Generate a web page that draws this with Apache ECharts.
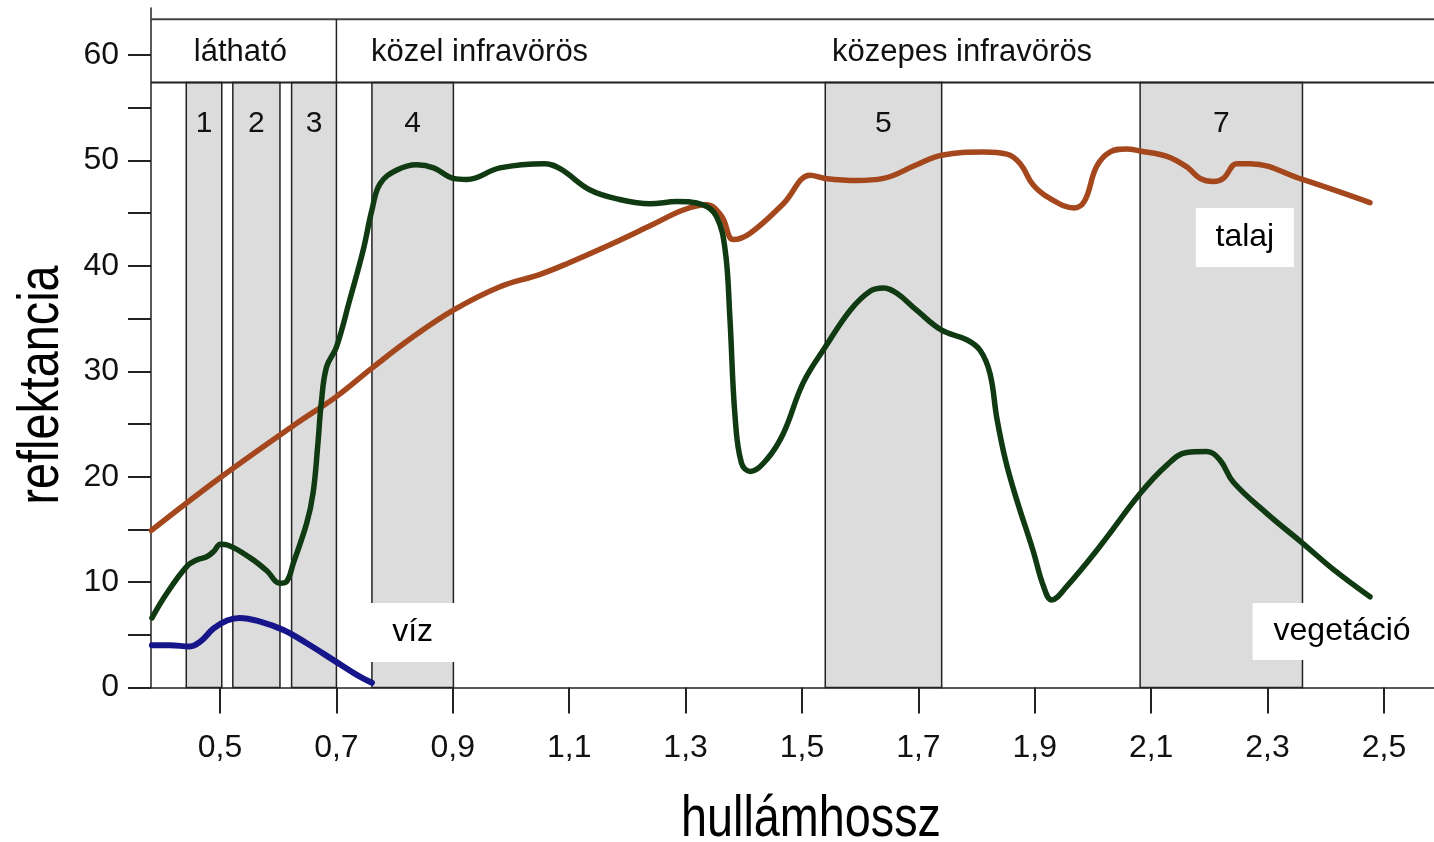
<!DOCTYPE html>
<html><head><meta charset="utf-8">
<script src="https://cdn.jsdelivr.net/npm/echarts@6/dist/echarts.min.js"></script>
<style>html,body{margin:0;padding:0;background:#fff}#c{width:1434px;height:842px}</style>
</head><body><div id="c"></div>
<script>
// ---- data ----
const soilWave = [0.382,0.50,0.63,0.70,0.761,0.83,0.901,0.98,1.05,1.10,1.17,1.239,1.296,1.336,1.362,1.382,1.411,1.468,1.514,1.540,1.594,1.640,1.697,1.740,1.812,1.852,1.875,1.897,1.926,1.968,1.986,2.006,2.029,2.058,2.081,2.127,2.161,2.184,2.207,2.224,2.247,2.270,2.360,2.476];
const soilRefl = [14.9,19.9,25.0,27.6,30.3,33.2,35.8,38.0,39.2,40.3,42.0,43.8,45.3,45.8,44.7,42.5,43.1,45.9,48.6,48.3,48.1,48.3,49.6,50.5,50.8,50.6,49.7,47.7,46.4,45.5,46.2,49.4,50.8,51.1,50.9,50.4,49.4,48.3,48.0,48.3,49.7,49.7,48.2,46.0];

const vegWave = [0.383,0.408,0.443,0.46,0.477,0.489,0.501,0.514,0.552,0.580,0.603,0.615,0.626,0.649,0.660,0.668,0.674,0.683,0.70,0.723,0.746,0.761,0.775,0.804,0.838,0.867,0.901,0.924,0.981,1.058,1.085,1.136,1.187,1.239,1.285,1.330,1.353,1.368,1.376,1.385,1.396,1.411,1.439,1.468,1.502,1.540,1.583,1.617,1.640,1.663,1.697,1.740,1.783,1.806,1.823,1.835,1.850,1.869,1.897,1.915,1.929,1.955,2.012,2.081,2.127,2.161,2.195,2.218,2.241,2.299,2.360,2.413,2.476];
const vegRefl = [6.6,8.9,11.5,12.1,12.4,12.9,13.6,13.5,12.3,11.1,9.9,10.1,11.8,15.6,18.5,23.0,27.0,30.4,32.3,36.8,41.5,45.3,47.8,49.1,49.6,49.3,48.3,48.2,49.3,49.7,49.2,47.2,46.3,45.9,46.1,45.8,44.7,41.5,35.2,25.7,21.3,20.5,21.6,24.1,28.9,32.3,35.8,37.6,37.9,37.4,35.8,33.9,33.0,32.0,29.8,25.5,21.5,17.8,13.0,9.6,8.3,9.6,13.4,18.4,21.1,22.3,22.4,21.6,19.5,16.5,13.7,11.2,8.6];

const waterWave = [0.383,0.414,0.448,0.466,0.489,0.512,0.534,0.569,0.609,0.649,0.695,0.735,0.761];
const waterRefl = [4.0,4.0,3.9,4.35,5.6,6.35,6.6,6.25,5.45,4.2,2.6,1.2,0.45];

const xTickValues = [0.5,0.7,0.9,1.1,1.3,1.5,1.7,1.9,2.1,2.3,2.5];
const yLabelValues = [0,10,20,30,40,50,60];
const yTickValues = [0,5,10,15,20,25,30,35,40,45,50,55,60];

const bandNames = ['1','2','3','4','5','7'];
const bandStart = [0.442,0.522,0.623,0.761,1.540,2.081];
const bandEnd   = [0.503,0.603,0.700,0.901,1.740,2.360];

const regionNames  = ['látható','közel infravörös','közepes infravörös'];
const regionCenter = [0.535,0.946,1.775];
const regionDividers = [0.7];

const curveNames = ['talaj','vegetáció','víz'];
const curveLabelX = [2.261,2.428,0.831];
const curveLabelY = [42.69,5.31,5.22];

const xAxisTitle = 'hullámhossz';
const yAxisTitle = 'reflektancia';

// ---- layout / style constants ----
const X_MIN = 0.3814, X_MAX = 2.586, Y_MIN = 0, Y_MAX = 64.47;
const HEADER_TOP = 63.4, HEADER_BOTTOM = 57.4, HEADER_TEXT_Y = 60.27, BAND_LABEL_Y = 53.5;
const FONT = '"Liberation Sans", Arial, Helvetica, sans-serif';
const BOX_SIZE = [[98,59],[179,57],[99,59]];
const zip = (a,b) => a.map((v,i)=>[v,b[i]]);

const chart = echarts.init(document.getElementById('c'), null, {renderer:'canvas'});
chart.setOption({
  animation:false,
  backgroundColor:'#ffffff',
  grid:{left:151,right:0,top:8,bottom:154.5,containLabel:false,outerBoundsMode:'none'},
  xAxis:{
    type:'value',min:X_MIN,max:X_MAX,
    axisLine:{show:true,onZero:false,lineStyle:{color:'#222',width:1.5}},
    axisTick:{show:true,customValues:xTickValues,length:26,lineStyle:{color:'#222',width:2}},
    axisLabel:{customValues:xTickValues,formatter:v=>v.toFixed(1).replace('.',','),fontSize:32,fontFamily:FONT,color:'#111',margin:45},
    splitLine:{show:false}
  },
  yAxis:{
    type:'value',min:Y_MIN,max:Y_MAX,
    axisLine:{show:true,lineStyle:{color:'#222',width:1.5}},
    axisTick:{show:true,customValues:yTickValues,length:23,lineStyle:{color:'#222',width:2}},
    axisLabel:{customValues:yLabelValues,fontSize:32,fontFamily:FONT,color:'#111',margin:32},
    splitLine:{show:false}
  },
  graphic:[
    {type:'text',x:811,y:820,scaleX:0.82,style:{text:xAxisTitle,font:'57px '+FONT,fill:'#000',align:'center',verticalAlign:'middle'}},
    {type:'text',x:42,y:385,rotation:Math.PI/2,scaleX:0.82,style:{text:yAxisTitle,font:'57px '+FONT,fill:'#000',align:'center',verticalAlign:'middle'}}
  ],
  series:[
    {
      type:'custom',name:'bands',z:1,
      data:bandNames.map((n,i)=>[bandStart[i],bandEnd[i]]),
      renderItem:(params,api)=>{
        const i = params.dataIndex;
        const p0 = api.coord([bandStart[i],0]);
        const p1 = api.coord([bandEnd[i],HEADER_BOTTOM]);
        const m = api.coord([(bandStart[i]+bandEnd[i])/2,BAND_LABEL_Y]);
        return {type:'group',children:[
          {type:'rect',shape:{x:p0[0],y:p1[1],width:p1[0]-p0[0],height:p0[1]-p1[1]},style:{fill:'#dcdcdc',stroke:'#222',lineWidth:1.5}},
          {type:'text',x:m[0],y:m[1],style:{text:bandNames[i],font:'30px '+FONT,fill:'#111',align:'center',verticalAlign:'middle'}}
        ]};
      }
    },
    {
      type:'custom',name:'header',z:1,
      data:[[X_MIN,HEADER_TOP]],
      renderItem:(params,api)=>{
        const tl = api.coord([X_MIN,HEADER_TOP]), tr = api.coord([X_MAX,HEADER_TOP]);
        const bl = api.coord([X_MIN,HEADER_BOTTOM]), br = api.coord([X_MAX,HEADER_BOTTOM]);
        const ch = [
          {type:'line',shape:{x1:tl[0],y1:tl[1],x2:tr[0]+2,y2:tr[1]},style:{stroke:'#444',lineWidth:2}},
          {type:'line',shape:{x1:bl[0],y1:bl[1],x2:br[0]+2,y2:br[1]},style:{stroke:'#222',lineWidth:2}}
        ];
        regionDividers.forEach(d=>{
          const a = api.coord([d,HEADER_TOP]), b = api.coord([d,HEADER_BOTTOM]);
          ch.push({type:'line',shape:{x1:a[0],y1:a[1],x2:b[0],y2:b[1]},style:{stroke:'#222',lineWidth:1.5}});
        });
        regionNames.forEach((n,i)=>{
          const p = api.coord([regionCenter[i],HEADER_TEXT_Y]);
          ch.push({type:'text',x:p[0],y:p[1],style:{text:n,font:'31px '+FONT,fill:'#111',align:'center',verticalAlign:'middle'}});
        });
        return {type:'group',children:ch};
      }
    },
    {type:'line',name:'talaj',z:3,data:zip(soilWave,soilRefl),showSymbol:false,smooth:0.4,lineStyle:{color:'#a4471c',width:5.5,cap:'round',join:'round'}},
    {type:'line',name:'vegetáció',z:3,data:zip(vegWave,vegRefl),showSymbol:false,smooth:0.4,lineStyle:{color:'#103a12',width:5.5,cap:'round',join:'round'}},
    {type:'line',name:'víz',z:3,data:zip(waterWave,waterRefl),showSymbol:false,smooth:0.4,lineStyle:{color:'#16168a',width:6,cap:'round',join:'round'}},
    {
      type:'custom',name:'labels',z:5,
      data:curveNames.map((n,i)=>[curveLabelX[i],curveLabelY[i]]),
      renderItem:(params,api)=>{
        const i = params.dataIndex;
        const p = api.coord([curveLabelX[i],curveLabelY[i]]);
        const w = BOX_SIZE[i][0], h = BOX_SIZE[i][1];
        return {type:'group',children:[
          {type:'rect',shape:{x:p[0]-w/2,y:p[1]-h/2,width:w,height:h},style:{fill:'#ffffff'}},
          {type:'text',x:p[0],y:p[1],style:{text:curveNames[i],font:'32px '+FONT,fill:'#000',align:'center',verticalAlign:'middle'}}
        ]};
      }
    }
  ]
});
</script></body></html>
